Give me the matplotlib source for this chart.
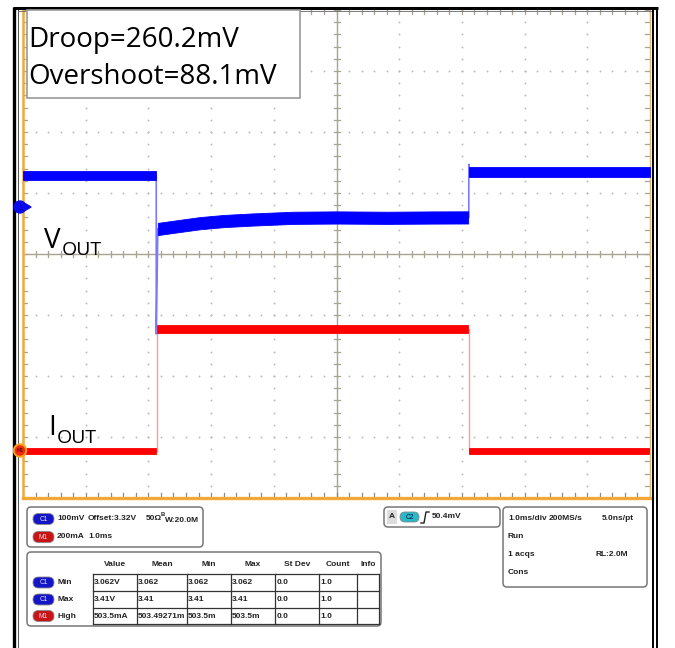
import matplotlib
matplotlib.use("Agg")
import matplotlib.pyplot as plt
import numpy as np
from matplotlib.patches import FancyBboxPatch, Rectangle, Circle, Polygon

# ---------------- data ----------------
annot_lines = ["Droop=260.2mV", "Overshoot=88.1mV"]

# VOUT (volts) vs time (ms)
vout_pre_t = [-5.0, -2.88]
vout_pre_v = [3.373, 3.373]
vout_load_t = [-2.85, -2.50, -2.18, -1.80, -1.33, -0.69, 0.0, 0.80, 1.50, 2.10]
vout_load_v = [3.285, 3.290, 3.2945, 3.298, 3.3006, 3.3033, 3.3039, 3.3033, 3.3038, 3.304]
vout_post_t = [2.12, 5.0]
vout_post_v = [3.379, 3.379]
vout_noise = [0.0075, 0.0100, 0.0080]      # half-width of noise band per segment (V)
vout_step_down_t = -2.875
vout_droop_min = 3.113
vout_step_up_t = 2.11
vout_overshoot_max = 3.391

# IOUT (mA) vs time (ms)
iout_edges_t = [-5.0, -2.87, 2.11, 5.0]
iout_levels = [0, 400, 0]
iout_noise = [9, 13, 9]

# scope settings
v_per_div = 0.1
v_offset = 3.32
ch1_pos_div = 0.76
i_per_div = 200.0
m1_pos_div = -3.23

ch_box_rows = [("C1", "100mV", "Offset:3.32V", "50Ω", "20.0M"),
               ("M1", "200mA", "1.0ms", "", "")]
meas_cols = ["Value", "Mean", "Min", "Max", "St Dev", "Count", "Info"]
meas_rows = [("C1", "Min", ["3.062V", "3.062", "3.062", "3.062", "0.0", "1.0", ""]),
             ("C1", "Max", ["3.41V", "3.41", "3.41", "3.41", "0.0", "1.0", ""]),
             ("M1", "High", ["503.5mA", "503.49271m", "503.5m", "503.5m", "0.0", "1.0", ""])]
trig_text = "50.4mV"
acq_texts = ["1.0ms/div", "200MS/s", "5.0ns/pt", "Run", "1 acqs", "RL:2.0M", "Cons"]

# ---------------- layout ----------------
W, H = 675, 648
fig = plt.figure(figsize=(W / 100, H / 100), dpi=100)
fig.patch.set_facecolor("white")

L, R, T, B = 23, 650, 10, 498
ax = fig.add_axes([L / W, 1 - B / H, (R - L) / W, (B - T) / H])
ax.set_xlim(-5, 5)
ax.set_ylim(-4, 4)
ax.set_xticks([]); ax.set_yticks([])
pxx = 10 / (R - L)
pxy = 8 / (B - T)

ax.spines["top"].set_visible(False)
ax.spines["left"].set_color("#f2a838"); ax.spines["left"].set_linewidth(1.8)
ax.spines["bottom"].set_color("#f2a838"); ax.spines["bottom"].set_linewidth(2.4)
ax.spines["right"].set_color("#d9b878"); ax.spines["right"].set_linewidth(1.0)

gcol = "#a9a391"
dcol = "#b8b8b8"
minor = np.arange(-5, 5.001, 0.2)
minor_y = np.arange(-4, 4.001, 0.2)
# dotted graticule
for gx in range(-4, 5):
    if gx == 0:
        continue
    ax.scatter(np.full(len(minor_y), gx), minor_y, s=1.8, color=dcol, lw=0, zorder=1)
for gy in range(-3, 4):
    if gy == 0:
        continue
    ax.scatter(minor, np.full(len(minor), gy), s=1.8, color=dcol, lw=0, zorder=1)
# centre lines with ticks
ax.axhline(0, color=gcol, lw=1.0, zorder=1)
ax.axvline(0, color=gcol, lw=1.0, zorder=1)
for mx in minor:
    ax.plot([mx, mx], [-3 * pxy, 3 * pxy], color=gcol, lw=0.9, zorder=1)
    ax.plot([mx, mx], [4 - 4 * pxy, 4], color=gcol, lw=0.9, zorder=1)
    ax.plot([mx, mx], [-4, -4 + 5 * pxy], color="#8a8a8a", lw=0.9, zorder=1)
for my in minor_y:
    ax.plot([-3 * pxx, 3 * pxx], [my, my], color=gcol, lw=0.9, zorder=1)
    ax.plot([5 - 5 * pxx, 5], [my, my], color=gcol, lw=0.9, zorder=1)
    ax.plot([-5, -5 + 4 * pxx], [my, my], color=gcol, lw=0.9, zorder=1)


def vdiv(v):
    return (np.asarray(v) - v_offset) / v_per_div + ch1_pos_div


def idiv(i):
    return np.asarray(i) / i_per_div + m1_pos_div


blue, blue_thin = "#0000ff", "#7a7aff"
red, red_thin = "#ff0000", "#ff9a9a"

# VOUT transitions (thin)
ax.plot([vout_pre_t[-1], vout_step_down_t, vout_step_down_t, vout_load_t[0]],
        vdiv([vout_pre_v[-1], vout_pre_v[-1], vout_droop_min, vout_load_v[0]]),
        color=blue_thin, lw=1.2, zorder=3)
ax.plot([vout_load_t[-1], vout_step_up_t, vout_step_up_t, vout_post_t[0]],
        vdiv([vout_load_v[-1], vout_load_v[-1], vout_overshoot_max, vout_post_v[0]]),
        color=blue_thin, lw=1.2, zorder=3)
for (tt, vv), nz in zip([(vout_pre_t, vout_pre_v), (vout_load_t, vout_load_v),
                         (vout_post_t, vout_post_v)], vout_noise):
    vv = np.asarray(vv)
    ax.fill_between(tt, vdiv(vv - nz), vdiv(vv + nz), color=blue, lw=0.6, zorder=4)

# IOUT
for k in range(len(iout_levels)):
    t0, t1 = iout_edges_t[k], iout_edges_t[k + 1]
    lv, nz = iout_levels[k], iout_noise[k]
    ax.fill_between([t0 + 0.01, t1 - 0.01], idiv(lv - nz), idiv(lv + nz), color=red, lw=0.6, zorder=4)
for k in range(1, len(iout_levels)):
    te = iout_edges_t[k]
    ax.plot([te, te], idiv([iout_levels[k - 1], iout_levels[k]]), color=red_thin, lw=1.0, zorder=3)

# ---------------- overlay in pixel coords ----------------
ov = fig.add_axes([0, 0, 1, 1], zorder=5)
ov.set_xlim(0, W); ov.set_ylim(H, 0)
ov.axis("off")
ov.patch.set_alpha(0)

# outer frame
ov.plot([14, 14], [7, H], color="black", lw=2.4, solid_capstyle="butt")
ov.plot([18, 18], [10, H], color="#555555", lw=0.7)
ov.plot([12.5, 658], [8, 8], color="black", lw=2.2, solid_capstyle="butt")
ov.plot([18, 653], [11, 11], color="#666666", lw=0.6)
ov.plot([653, 653], [8, H], color="black", lw=1.4, solid_capstyle="butt")
ov.plot([657, 657], [7, H], color="black", lw=1.4, solid_capstyle="butt")

# annotation box
ov.add_patch(Rectangle((27, 10), 273, 88, facecolor="white", edgecolor="#9a9a9a", lw=1.2, zorder=6))
afont = ["Open Sans", "DejaVu Sans"]
ov.text(28, 47, annot_lines[0], fontsize=20, family=afont, va="baseline", ha="left", zorder=7)
ov.text(28, 84, annot_lines[1], fontsize=20, family=afont, va="baseline", ha="left", zorder=7)

# trace labels
ov.text(44, 248, "V", fontsize=20, family=afont, va="baseline", zorder=7)
ov.text(62, 255, "OUT", fontsize=14, family=afont, va="baseline", zorder=7)
ov.text(48, 435, "I", fontsize=20, family=afont, va="baseline", zorder=7)
ov.text(57, 443, "OUT", fontsize=14, family=afont, va="baseline", zorder=7)

# channel markers
ov.add_patch(Circle((20, 207), 6, color="#0a0aee", zorder=7))
ov.add_patch(Polygon([[25, 203.5], [31, 207], [25, 210.5]], closed=True, color="#0a0aee", zorder=7))
ov.text(20, 207.5, "1", fontsize=5, color="#000080", ha="center", va="center", zorder=8)
ov.add_patch(Circle((20, 450.5), 6.5, color="#f5a020", zorder=7))
ov.add_patch(Circle((20, 450.5), 4.5, color="#ee2a10", zorder=7))
ov.text(20, 451, "M1", fontsize=3.5, color="#400000", ha="center", va="center", zorder=8)

# ---------------- info panel ----------------
sfont = ["Liberation Sans Narrow", "Liberation Sans", "DejaVu Sans"]
fs = 6.0


def rbox(x0, y0, x1, y1, r=4):
    ov.add_patch(FancyBboxPatch((x0, y0), x1 - x0, y1 - y0,
                                boxstyle=f"round,pad=0,rounding_size={r}",
                                facecolor="white", edgecolor="#777777", lw=1.1, zorder=6))


def pill(x, y, label, col):
    ov.add_patch(FancyBboxPatch((x, y - 5.5), 21, 11, boxstyle="round,pad=0,rounding_size=5.5",
                                facecolor=col, edgecolor="#888888", lw=0.6, zorder=7))
    ov.text(x + 10.5, y + 0.3, label, fontsize=4.8, color="#dde", family=sfont,
            ha="center", va="center", zorder=8)


def t(x, y, s, ha="left", **kw):
    ov.text(x, y, s, fontsize=fs, family=sfont, fontweight="bold", ha=ha, va="center",
            color="#222222", zorder=8, **kw)


pill_col = {"C1": "#1515c8", "M1": "#c81414"}

rbox(27, 507, 203, 547)
for (ch, a, b, c, d), yy in zip(ch_box_rows, [519, 537]):
    pill(33, yy, ch, pill_col[ch])
    t(57, yy, a)
    t(88, yy, b)
    if c:
        t(146, yy, c)
    if d:
        ov.text(161, yy - 4, "B", fontsize=4.2, family=sfont, fontweight="bold", va="center",
                color="#222", zorder=8)
        t(165, yy + 1.5, "W:" + d)

# measurement table
rbox(27, 552, 381, 626)
col_x = [93, 137, 187, 231, 275, 319, 357, 379]
row_y = [574, 591, 608, 624]
for k, name in enumerate(meas_cols):
    t((col_x[k] + col_x[k + 1]) / 2, 565, name, ha="center")
for yy in row_y:
    ov.plot([col_x[0], col_x[-1]], [yy, yy], color="#333333", lw=0.9, zorder=7)
for xx in col_x:
    ov.plot([xx, xx], [row_y[0], row_y[-1]], color="#333333", lw=0.9, zorder=7)
for r, (ch, lab, vals) in enumerate(meas_rows):
    yy = (row_y[r] + row_y[r + 1]) / 2
    pill(33, yy, ch, pill_col[ch])
    t(57, yy, lab)
    for k, v in enumerate(vals):
        t(col_x[k] + 1.2, yy, v)

# trigger box
rbox(384, 507, 500, 527)
ov.add_patch(Rectangle((387, 510), 10, 14, facecolor="#dddddd", edgecolor="none", zorder=7))
t(392, 517, "A", ha="center")
ov.add_patch(FancyBboxPatch((400, 512), 19, 10, boxstyle="round,pad=0,rounding_size=5",
                            facecolor="#28b8c8", edgecolor="#888888", lw=0.6, zorder=7))
ov.text(409.5, 517.3, "C2", fontsize=4.8, color="#114", family=sfont, ha="center", va="center", zorder=8)
ov.plot([421, 424, 426, 429], [523, 523, 512, 512], color="#222222", lw=1.0, zorder=8)
t(432, 517, trig_text)

# acquisition box
rbox(503, 507, 647, 587)
t(508, 518, acq_texts[0])
t(549, 518, acq_texts[1])
t(602, 518, acq_texts[2])
t(508, 536, acq_texts[3])
t(508, 554, acq_texts[4])
t(596, 554, acq_texts[5])
t(508, 573, acq_texts[6])

fig.savefig("out.png", dpi=100)
